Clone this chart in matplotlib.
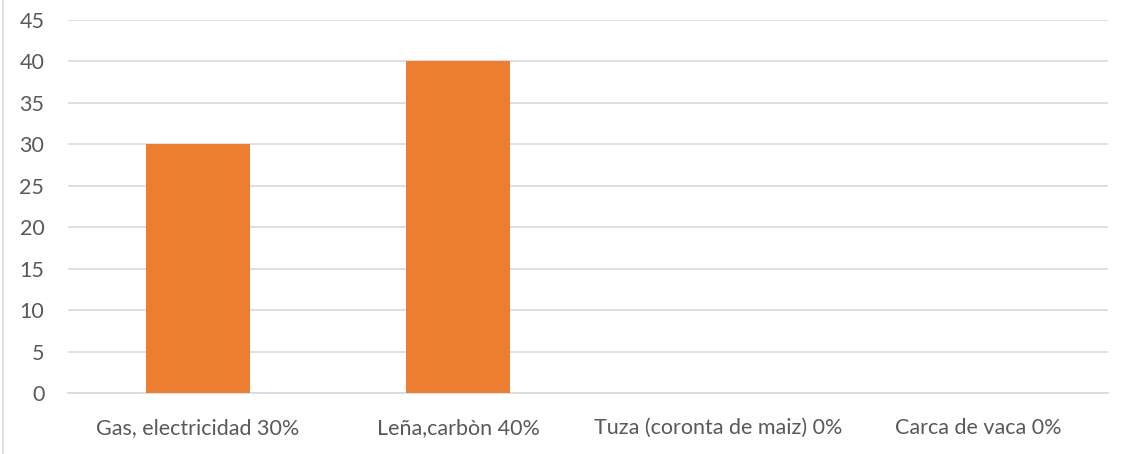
import numpy as np
import matplotlib.pyplot as plt
from matplotlib.lines import Line2D

categories = ['Gas, electricidad 30%', 'Leña,carbòn 40%',
              'Tuza (coronta de maiz) 0%', 'Carca de vaca 0%']
values = [30, 40, 0, 0]
yticks = [0, 5, 10, 15, 20, 25, 30, 35, 40, 45]

plt.rcParams['font.family'] = ['Lato', 'DejaVu Sans']

fig = plt.figure(figsize=(11.29, 4.54), dpi=100)
ax = fig.add_axes([0.0602, 0.1344, 0.9212, 0.8216])

x = np.arange(len(categories))
ax.bar(x, values, width=0.4, color='#ED7D31', zorder=3)

ax.set_xlim(-0.5, len(categories) - 0.5)
ax.set_ylim(0, 45)
ax.set_yticks(yticks)
ax.set_xticks(x)
ax.set_xticklabels(categories)
ax.grid(axis='y', color='#d9d9d9', linewidth=1.2, zorder=0)
for s in ['top', 'right', 'left']:
    ax.spines[s].set_visible(False)
ax.spines['bottom'].set_color('#d9d9d9')
ax.spines['bottom'].set_linewidth(1.2)
ax.tick_params(length=0, labelsize=15.5, colors='#595959')
ax.tick_params(axis='y', pad=17)
ax.tick_params(axis='x', pad=18)

# thin border on the left side of the chart frame
fig.add_artist(Line2D([0.003, 0.003], [0, 1], color='#d9d9d9', linewidth=1.2))

fig.savefig('out.png', dpi=100)
